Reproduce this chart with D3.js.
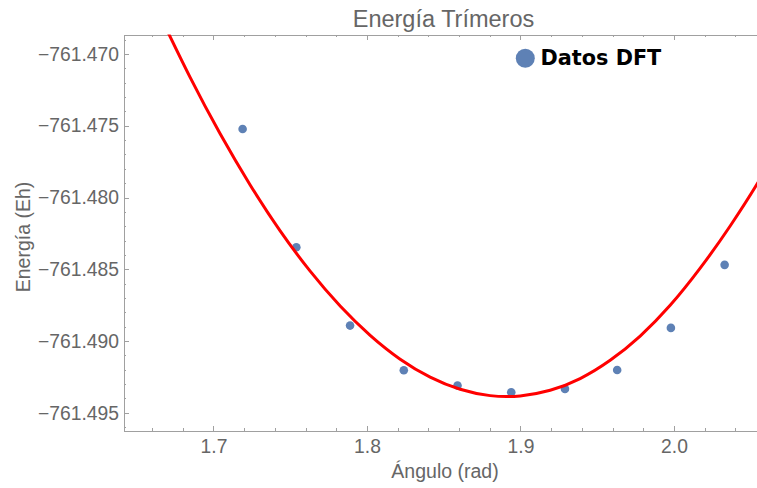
<!DOCTYPE html>
<html>
<head>
<meta charset="utf-8">
<script src="https://cdn.jsdelivr.net/npm/d3@7"></script>
<style>
  body { margin: 0; background: #fff; }
  svg { display: block; }
  .axis path, .axis line { stroke: #a0a0a0; shape-rendering: crispEdges; }
  .axis text { fill: #666; font-family: "Liberation Sans", Arial, sans-serif; font-size: 19.3px; }
</style>
</head>
<body>
<svg id="chart" width="757" height="488"></svg>
<script>
// DFT energies of the trimer vs. bond angle
const angles = [1.719, 1.754, 1.789, 1.824, 1.859, 1.894, 1.929, 1.963, 1.998, 2.033];
const energies = [-761.47522, -761.48346, -761.48892, -761.49203, -761.49310,
                  -761.49356, -761.49333, -761.49201, -761.48908, -761.48469];

// fitted curve, sampled
const fitAngles = [1.66528, 1.68482, 1.70436, 1.72391, 1.74345, 1.76300, 1.78254, 1.80208,
                   1.82163, 1.84117, 1.86072, 1.88026, 1.89980, 1.91935, 1.93889, 1.95844,
                   1.97798, 1.99752, 2.01707, 2.03661, 2.05616, 2.06919];
const fitEnergies = [-761.46735, -761.47163, -761.47556, -761.47912, -761.48232, -761.48513,
                     -761.48756, -761.48960, -761.49126, -761.49251, -761.49336, -761.49380,
                     -761.49382, -761.49343, -761.49261, -761.49134, -761.48965, -761.48751,
                     -761.48492, -761.48198, -761.47870, -761.47620];

const xTicks = [1.7, 1.8, 1.9, 2.0];
const xTickLabels = ['1.7', '1.8', '1.9', '2.0'];
const yTicks = [-761.470, -761.475, -761.480, -761.485, -761.490, -761.495];
const yTickLabels = ['\u2212761.470', '\u2212761.475', '\u2212761.480',
                     '\u2212761.485', '\u2212761.490', '\u2212761.495'];

const plot = { left: 123.5, right: 763, top: 34.5, bottom: 430.5 };

const svg = d3.select('#chart');

const xScale = d3.scaleLinear()
                 .domain([1.6414, 2.058])
                 .range([plot.left, plot.right]);
const yScale = d3.scaleLinear()
                 .domain([-761.49623, -761.46864])
                 .range([plot.bottom, plot.top]);

const isMinor = (list) => (v) => !list.some(t => Math.abs(t - v) < 1e-9);
const xMinor = xScale.ticks(20).filter(isMinor(xTicks));
const yMinor = yScale.ticks(28).filter(isMinor(yTicks));

// Frame: major ticks with labels, minor ticks without, all pointing inward
svg.append('g')
   .attr('class', 'axis x-axis')
   .attr('transform', `translate(0,${plot.bottom})`)
   .call(d3.axisBottom(xScale)
           .tickValues(xTicks)
           .tickFormat((d, i) => xTickLabels[i])
           .tickSize(-5)
           .tickSizeOuter(0)
           .tickPadding(9));

svg.append('g')
   .attr('class', 'axis')
   .attr('transform', `translate(0,${plot.bottom})`)
   .call(d3.axisBottom(xScale)
           .tickValues(xMinor)
           .tickFormat('')
           .tickSize(-2.7)
           .tickSizeOuter(0));

svg.append('g')
   .attr('class', 'axis')
   .attr('transform', `translate(0,${plot.top})`)
   .call(d3.axisTop(xScale)
           .tickValues(xTicks)
           .tickFormat('')
           .tickSize(-5)
           .tickSizeOuter(0));

svg.append('g')
   .attr('class', 'axis')
   .attr('transform', `translate(0,${plot.top})`)
   .call(d3.axisTop(xScale)
           .tickValues(xMinor)
           .tickFormat('')
           .tickSize(-2.7)
           .tickSizeOuter(0));

svg.append('g')
   .attr('class', 'axis y-axis')
   .attr('transform', `translate(${plot.left},0)`)
   .call(d3.axisLeft(yScale)
           .tickValues(yTicks)
           .tickFormat((d, i) => yTickLabels[i])
           .tickSize(-5)
           .tickSizeOuter(0)
           .tickPadding(4.5));

svg.append('g')
   .attr('class', 'axis')
   .attr('transform', `translate(${plot.left},0)`)
   .call(d3.axisLeft(yScale)
           .tickValues(yMinor)
           .tickFormat('')
           .tickSize(-2.7)
           .tickSizeOuter(0));

// Titles
svg.append('text')
   .attr('x', 443.5)
   .attr('y', 26.5)
   .attr('text-anchor', 'middle')
   .attr('fill', '#666')
   .style('font-family', '"Liberation Sans", Arial, sans-serif')
   .style('font-size', '23.5px')
   .text('Energía Trímeros');

svg.append('text')
   .attr('x', 445)
   .attr('y', 478)
   .attr('text-anchor', 'middle')
   .attr('fill', '#666')
   .style('font-family', '"Liberation Sans", Arial, sans-serif')
   .style('font-size', '19.5px')
   .text('Ángulo (rad)');

svg.append('text')
   .attr('text-anchor', 'middle')
   .attr('fill', '#666')
   .attr('transform', 'translate(29.5,237) rotate(-90)')
   .style('font-family', '"Liberation Sans", Arial, sans-serif')
   .style('font-size', '19.5px')
   .text('Energía (Eh)');

// Plot contents
svg.append('clipPath')
   .attr('id', 'plot-clip')
   .append('rect')
   .attr('x', plot.left)
   .attr('y', plot.top)
   .attr('width', plot.right - plot.left)
   .attr('height', plot.bottom - plot.top);

const area = svg.append('g')
                .attr('clip-path', 'url(#plot-clip)');

area.selectAll('.dft-point')
    .data(angles)
    .enter()
    .append('circle')
    .attr('class', 'dft-point')
    .attr('cx', d => xScale(d))
    .attr('cy', (d, i) => yScale(energies[i]))
    .attr('r', 4.3)
    .attr('fill', '#5e81b5');

area.append('path')
    .datum(fitAngles.map((a, i) => [a, fitEnergies[i]]))
    .attr('fill', 'none')
    .attr('stroke', '#ff0000')
    .attr('stroke-width', 3)
    .attr('d', d3.line()
                 .x(d => xScale(d[0]))
                 .y(d => yScale(d[1]))
                 .curve(d3.curveNatural));

// Legend
const legend = svg.append('g')
                  .attr('class', 'legend');

legend.append('circle')
      .attr('cx', 525.3)
      .attr('cy', 58.3)
      .attr('r', 9.5)
      .attr('fill', '#5e81b5');

legend.append('text')
      .attr('x', 540.5)
      .attr('y', 65)
      .attr('fill', '#000')
      .style('font-family', '"DejaVu Sans", sans-serif')
      .style('font-weight', 'bold')
      .style('font-size', '20.8px')
      .text('Datos DFT');
</script>
</body>
</html>
